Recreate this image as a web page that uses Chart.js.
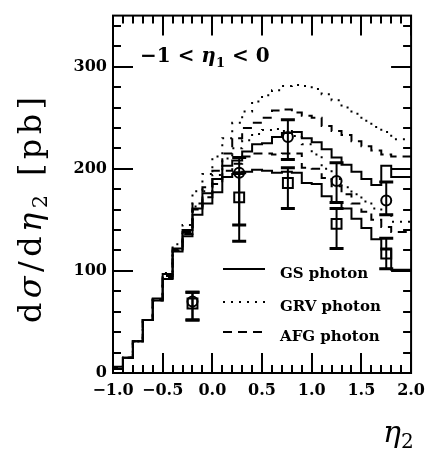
<!DOCTYPE html>
<html>
<head>
<meta charset="utf-8">
<script src="https://cdn.jsdelivr.net/npm/chart.js@4.4.0/dist/chart.umd.min.js"></script>
<style>
  html, body { margin: 0; padding: 0; background: #fff; }
  canvas { display: block; }
</style>
</head>
<body>
<canvas id="chart" width="433" height="449"></canvas>
<script>
// histogram bin edges in eta_2
const binEdges = [-1.0, -0.9, -0.8, -0.7, -0.6, -0.5, -0.4, -0.3, -0.2, -0.1, 0.0,
  0.1, 0.2, 0.3, 0.4, 0.5, 0.6, 0.7, 0.8, 0.9, 1.0,
  1.1, 1.2, 1.3, 1.4, 1.5, 1.6, 1.7, 1.8, 1.9, 2.0];

// d(sigma)/d(eta_2) per bin [pb], two curves for each photon parametrisation
const gsHigh  = [0, 6, 15, 31, 52, 73, 97, 122, 140, 161, 176, 190, 203, 208, 217, 224, 225, 231, 235, 236, 230, 226, 219, 211, 204, 197, 190, 184, 203, 192];
const gsLow   = [0, 4, 15, 31, 52, 71, 92, 119, 134, 155, 166, 177, 192, 195, 197, 199, 198, 196, 197, 196, 186, 185, 173, 167, 161, 151, 142, 131, 121, 101];
const grvHigh = [0, 5, 15, 31, 52, 72, 98, 126, 145, 178, 195, 212, 230, 245, 256, 266, 272, 277, 281, 282, 281, 278, 273, 267, 260, 254, 247, 241, 236, 229];
const grvLow  = [0, 5, 15, 31, 52, 72, 94, 121, 138, 163, 178, 194, 210, 220, 228, 234, 238, 239, 237, 232, 224, 214, 200, 190, 182, 175, 168, 161, 155, 148];
const afgHigh = [0, 5, 15, 31, 52, 72, 95, 121, 138, 166, 182, 198, 215, 230, 240, 245, 250, 257, 258, 255, 252, 250, 242, 237, 233, 227, 222, 218, 214, 212];
const afgLow  = [0, 5, 15, 31, 52, 71, 93, 120, 136, 160, 172, 185, 198, 205, 212, 215, 215, 214, 215, 215, 201, 200, 191, 183, 175, 166, 158, 150, 143, 138];

// measured points (circles and squares) with error bar ends
const dataX    = [-0.2, 0.27, 0.76, 1.25, 1.75];
const circleY  = [70, 196, 231, 188, 169];
const circleLo = [52, 145, 209, 167, 155];
const circleHi = [79, 211, 248, 206, 187];
const squareY  = [68, 172, 186, 146, 117];
const squareLo = [52, 129, 161, 122, 102];
const squareHi = [79, 196, 201, 161, 132];

// axis ticks
const xTickValues = [-1.0, -0.5, 0.0, 0.5, 1.0, 1.5, 2.0];
const yTickValues = [0, 100, 200, 300];

const SERIF = '"DejaVu Serif", serif';

// histogram as points on the left bin edges, last edge repeats the last value
function toSteps(vals) {
  return binEdges.map((x, i) => ({ x: x, y: vals[Math.min(i, vals.length - 1)] }));
}

function histo(label, vals, dash) {
  return {
    label: label,
    data: toSteps(vals),
    borderColor: '#000',
    borderWidth: 2,
    borderDash: dash,
    pointRadius: 0,
    stepped: 'after',
    fill: false
  };
}

const whiteBg = {
  id: 'whiteBg',
  beforeDraw(chart) {
    const ctx = chart.ctx;
    ctx.save();
    ctx.fillStyle = '#fff';
    ctx.fillRect(0, 0, chart.width, chart.height);
    ctx.restore();
  }
};

// frame with inward ticks on all four sides
const frameTicks = {
  id: 'frameTicks',
  afterDraw(chart) {
    const { ctx, chartArea: a, scales: { x, y } } = chart;
    ctx.save();
    ctx.strokeStyle = '#000';
    ctx.lineWidth = 2;
    ctx.strokeRect(a.left, a.top, a.right - a.left, a.bottom - a.top);
    ctx.beginPath();
    for (let i = 0; i <= 30; i++) {
      const px = Math.round(x.getPixelForValue(-1 + i * 0.1));
      const len = i % 5 === 0 ? 20 : 8;
      ctx.moveTo(px, a.bottom); ctx.lineTo(px, a.bottom - len);
      ctx.moveTo(px, a.top); ctx.lineTo(px, a.top + len);
    }
    for (let v = 0; v <= 340; v += 20) {
      const py = Math.round(y.getPixelForValue(v));
      const len = v % 100 === 0 ? 20 : 8;
      ctx.moveTo(a.left, py); ctx.lineTo(a.left + len, py);
      ctx.moveTo(a.right, py); ctx.lineTo(a.right - len, py);
    }
    ctx.stroke();
    ctx.restore();
  }
};

// vertical error bars with caps for both point sets
const errorBars = {
  id: 'errorBars',
  afterDatasetsDraw(chart) {
    const { ctx, scales: { x, y } } = chart;
    ctx.save();
    ctx.strokeStyle = '#000';
    const draw = (lo, hi) => {
      dataX.forEach((v, i) => {
        const px = x.getPixelForValue(v);
        const p1 = y.getPixelForValue(lo[i]);
        const p2 = y.getPixelForValue(hi[i]);
        ctx.lineWidth = 2;
        ctx.beginPath();
        ctx.moveTo(px, p1); ctx.lineTo(px, p2);
        ctx.stroke();
        ctx.lineWidth = 3;
        ctx.beginPath();
        ctx.moveTo(px - 7, p1); ctx.lineTo(px + 7, p1);
        ctx.moveTo(px - 7, p2); ctx.lineTo(px + 7, p2);
        ctx.stroke();
      });
    };
    draw(circleLo, circleHi);
    draw(squareLo, squareHi);
    ctx.restore();
  }
};

// titles, inset label and legend
const texts = {
  id: 'texts',
  afterDraw(chart) {
    const ctx = chart.ctx;
    ctx.save();
    ctx.fillStyle = '#000';
    ctx.strokeStyle = '#000';
    ctx.textBaseline = 'alphabetic';
    ctx.textAlign = 'left';

    // pieces: [text, font, dy]
    const run = (x0, y0, pieces) => {
      let xx = x0;
      pieces.forEach(p => {
        ctx.font = p[1];
        ctx.fillText(p[0], xx, y0 + (p[2] || 0));
        xx += ctx.measureText(p[0]).width;
      });
    };

    // inset: -1 < eta_1 < 0
    const b20 = 'bold 20px ' + SERIF;
    run(140, 62, [
      ['\u22121 < ', b20],
      ['\u03b7', 'italic bold 20px ' + SERIF],
      ['1', 'bold 13px ' + SERIF, 5],
      [' < 0', b20]
    ]);

    // x axis title
    run(383, 442, [
      ['\u03b7', 'italic 30px ' + SERIF],
      ['2', '20px ' + SERIF, 6]
    ]);

    // y axis title, rotated
    ctx.save();
    ctx.translate(41, 210);
    ctx.rotate(-Math.PI / 2);
    const f32 = '32px ' + SERIF, i32 = 'italic 32px ' + SERIF, f21 = '21px ' + SERIF;
    const parts = [['d', f32, 0], ['\u03c3', i32, 0], ['/', f32, 0], ['d', f32, 0],
      ['\u03b7', i32, 0], ['2', f21, 6], [' ', f32, 0], ['[', f32, 0], ['p', f32, 0],
      ['b', f32, 0], [']', f32, 0]];
    let total = 0;
    parts.forEach(p => { ctx.font = p[1]; total += ctx.measureText(p[0]).width; });
    const gap = Math.max(0, (226 - total) / (parts.length - 1));
    let xx = -(total + gap * (parts.length - 1)) / 2;
    parts.forEach(p => {
      ctx.font = p[1];
      ctx.fillText(p[0], xx, p[2]);
      xx += ctx.measureText(p[0]).width + gap;
    });
    ctx.restore();

    // legend
    const rows = [['GS photon', [], 269], ['GRV photon', [2, 6], 302], ['AFG photon', [9, 6], 332]];
    rows.forEach(r => {
      ctx.lineWidth = 2;
      ctx.setLineDash(r[1]);
      ctx.beginPath();
      ctx.moveTo(223, r[2]); ctx.lineTo(265, r[2]);
      ctx.stroke();
      ctx.setLineDash([]);
      ctx.font = 'bold 15px ' + SERIF;
      ctx.fillText(r[0], 280, r[2] + 9);
    });
    ctx.restore();
  }
};

const tickFont = { family: SERIF, weight: 'bold', size: 16 };

new Chart(document.getElementById('chart'), {
  type: 'line',
  data: {
    datasets: [
      histo('GS photon', gsHigh, []),
      histo('GS photon', gsLow, []),
      histo('GRV photon', grvHigh, [2, 6]),
      histo('GRV photon', grvLow, [2, 6]),
      histo('AFG photon', afgHigh, [9, 6]),
      histo('AFG photon', afgLow, [9, 6]),
      {
        type: 'scatter',
        label: 'circles',
        data: dataX.map((x, i) => ({ x: x, y: circleY[i] })),
        pointStyle: 'circle',
        pointRadius: 5,
        borderColor: '#000',
        backgroundColor: 'rgba(0,0,0,0)',
        borderWidth: 2
      },
      {
        type: 'scatter',
        label: 'squares',
        data: dataX.map((x, i) => ({ x: x, y: squareY[i] })),
        pointStyle: 'rect',
        pointRadius: 7,
        borderColor: '#000',
        backgroundColor: 'rgba(0,0,0,0)',
        borderWidth: 2
      }
    ]
  },
  options: {
    responsive: false,
    animation: false,
    devicePixelRatio: 1,
    layout: { padding: { top: 11, right: 18, left: 0, bottom: 0 } },
    plugins: {
      legend: { display: false },
      tooltip: { enabled: false }
    },
    scales: {
      x: {
        type: 'linear',
        min: -1,
        max: 2,
        grid: { display: false, drawTicks: false },
        border: { display: false },
        afterBuildTicks: s => { s.ticks = xTickValues.map(v => ({ value: v })); },
        afterFit: s => { s.height = 76; },
        ticks: {
          autoSkip: false,
          maxRotation: 0,
          padding: 8,
          color: '#000',
          font: tickFont,
          callback: v => (Math.abs(v) < 1e-9 ? '0.0' : v.toFixed(1).replace('-', '\u2212'))
        }
      },
      y: {
        type: 'linear',
        min: 0,
        max: 350,
        grid: { display: false, drawTicks: false },
        border: { display: false },
        afterBuildTicks: s => { s.ticks = yTickValues.map(v => ({ value: v })); },
        afterFit: s => { s.width = 113; },
        ticks: {
          padding: 6,
          color: '#000',
          font: tickFont,
          callback: v => String(v)
        }
      }
    }
  },
  plugins: [whiteBg, frameTicks, errorBars, texts]
});
</script>
</body>
</html>
